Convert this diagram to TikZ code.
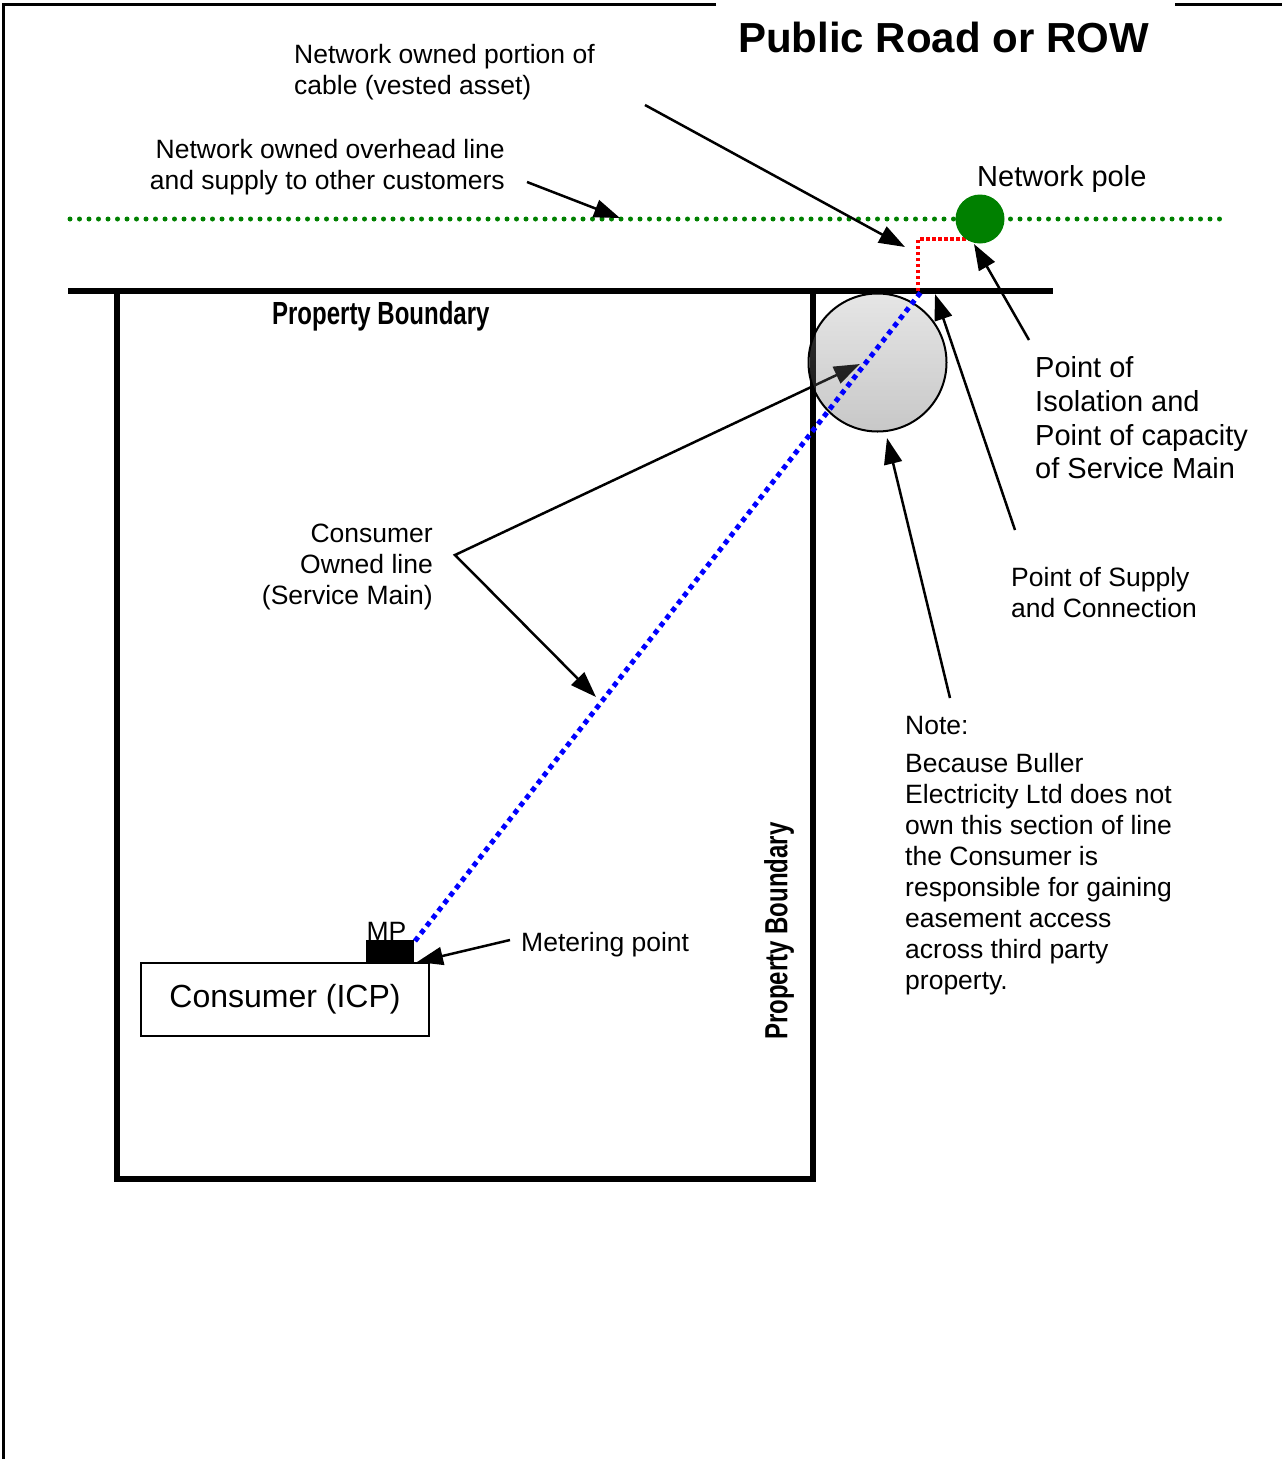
\documentclass[tikz,border=0pt]{standalone}
\usepackage{fontspec}
\setmainfont{Liberation Sans}
\usetikzlibrary{arrows.meta}
\definecolor{poleGreen}{RGB}{0,128,0}
\definecolor{cableBlue}{RGB}{0,0,255}
\definecolor{cableRed}{RGB}{255,0,0}
\begin{document}
\begin{tikzpicture}[x=1pt,y=-1pt,
  arr/.style={line width=2.5pt,-{Triangle[length=26pt,width=18pt]}},
  arrboth/.style={line width=2.5pt,{Triangle[length=26pt,width=18pt]}-{Triangle[length=26pt,width=18pt]}},
  lbl/.style={inner sep=0pt,font=\fontsize{26.5}{31}\selectfont},
  lblbig/.style={inner sep=0pt,font=\fontsize{29}{33.7}\selectfont},
  pb/.style={inner sep=0pt,font=\fontsize{32}{36}\selectfont\bfseries,xscale=0.75},
  frame/.style={line width=2.5pt},
  greendots/.style={poleGreen,line width=5pt,line cap=round,dash pattern=on 0pt off 9.5pt},
  bluedots/.style={cableBlue,line width=5pt,dash pattern=on 5pt off 4.5pt},
  reddots/.style={cableRed,line width=3.5pt,dash pattern=on 3.5pt off 2.5pt}]
\useasboundingbox (0,0) rectangle (1282,1459);

% page frame
\draw[frame] (716,4.5) -- (3.5,4.5) -- (3.5,1459);
\draw[frame] (1175,4.5) -- (1282,4.5);

% overhead line
\coordinate (ohL) at (70,219);
\coordinate (ohR) at (1222,219);
\draw[greendots] (ohL) -- (ohR);

% property
\draw[line width=5.5pt] (117,291) rectangle (813,1179);
\coordinate (pbL) at (68,291);
\coordinate (pbR) at (1053,291);
\draw[line width=6pt] (pbL) -- (pbR);

% labels
\node[lbl,anchor=north west,align=left] (vested) at (294,44) {Network owned portion of\\cable (vested asset)};
\node[lbl,anchor=north east,align=right] (overhead) at (505,139.5) {Network owned overhead line\\and supply to other customers};
\node[inner sep=0pt,anchor=north west,font=\fontsize{42}{48}\selectfont\bfseries] (road) at (738,22) {Public Road or ROW};
\node[lblbig,anchor=north west] (polelbl) at (977,165) {Network pole};
\node[pb,anchor=north west] (pbh) at (272,301) {Property Boundary};
\node[rotate=90,pb] (pbv) at (779,931) {Property Boundary};
\node[lblbig,anchor=north west,align=left] (iso) at (1035,356.5) {Point of\\Isolation and\\Point of capacity\\of Service Main};
\node[lbl,anchor=north east,align=right] (col) at (433,523.5) {Consumer\\Owned line\\(Service Main)};
\node[lbl,anchor=north west,align=left] (sup) at (1011,567.5) {Point of Supply\\and Connection};
\node[lbl,anchor=north west] (met) at (521,932.5) {Metering point};
\node[lbl,anchor=north west,align=left] (note) at (905,716.5) {Note:\\[7pt]Because Buller\\Electricity Ltd does not\\own this section of line\\the Consumer is\\responsible for gaining\\easement access\\across third party\\property.};

% consumer box and meter
\node[draw,line width=2pt,minimum width=288pt,minimum height=73pt,inner sep=0pt,font=\fontsize{32}{38}\selectfont] (icp) at (285,999.5) {Consumer (ICP)};
\node[fill=black,minimum width=48pt,minimum height=23pt,inner sep=0pt] (mp) at (390,951.5) {};
\node[lbl,anchor=base] (mplbl) at (386.5,940.5) {MP};

% arrows
\coordinate (a1s) at (645,105);   \coordinate (a1e) at (905,247);
\coordinate (a2s) at (527,182);   \coordinate (a2e) at (620,218);
\coordinate (a3s) at (1029,340);  \coordinate (a3e) at (974,244);
\coordinate (a4s) at (1015,530);  \coordinate (a4e) at (935,294);
\coordinate (a5s) at (950,698);   \coordinate (a5e) at (887,438);
\coordinate (a6a) at (860,364);   \coordinate (a6m) at (455,555);   \coordinate (a6b) at (596,697);
\coordinate (a7s) at (510,940);   \coordinate (a7e) at (417,962);
\draw[arr] (a1s) -- (a1e);
\draw[arr] (a2s) -- (a2e);
\draw[arr] (a3s) -- (a3e);
\draw[arr] (a4s) -- (a4e);
\draw[arr] (a5s) -- (a5e);
\draw[arrboth] (a6a) -- (a6m) -- (a6b);
\draw[arr] (a7s) -- (a7e);

% point of supply bubble (semi-transparent)
\shade[top color=black!33,bottom color=black!72,fill opacity=0.3] (877.5,362.5) circle (69);
\node[draw,circle,line width=2pt,minimum size=138pt,inner sep=0pt] (bubble) at (877.5,362.5) {};

% service main and network portion
\coordinate (svcTop) at (921,292);
\coordinate (svcBot) at (415,941);
\draw[bluedots] (svcBot) -- (svcTop);
\coordinate (redA) at (918,291);
\coordinate (redB) at (918,239);
\coordinate (redC) at (970,239);
\draw[reddots] (redA) -- (redB) -- (redC);

% network pole
\node[circle,fill=poleGreen,minimum size=49pt,inner sep=0pt] (pole) at (980,219) {};
\end{tikzpicture}
\end{document}
